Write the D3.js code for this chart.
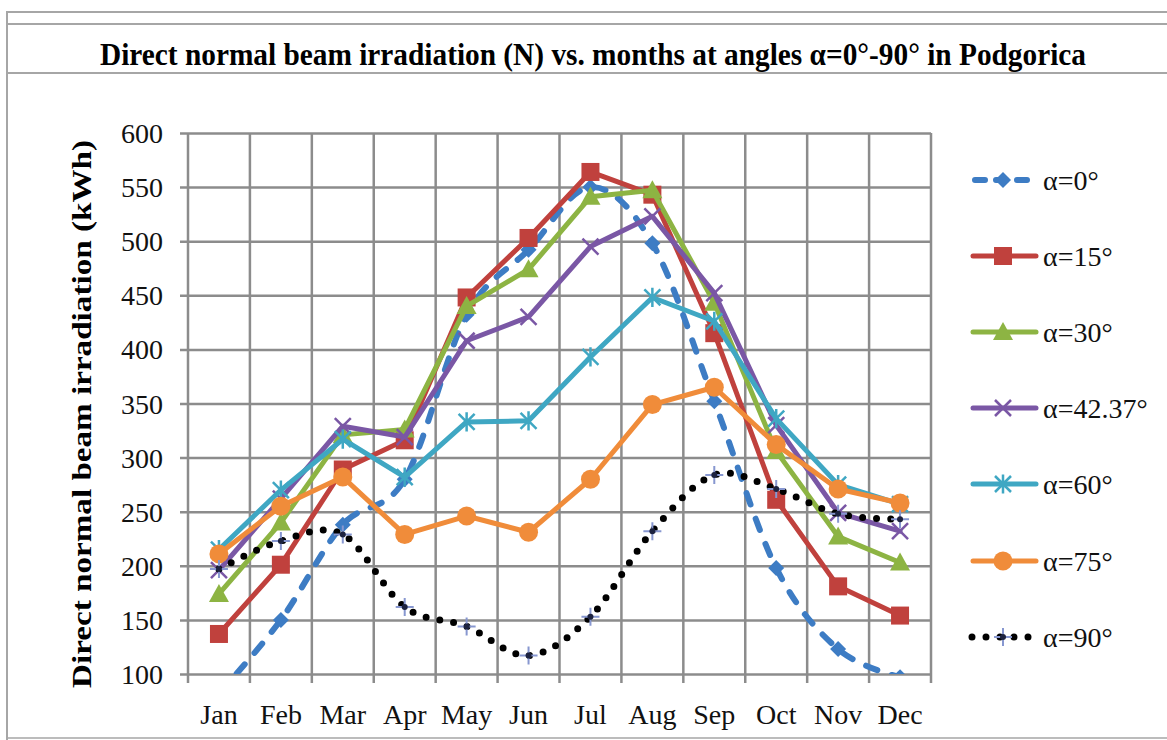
<!DOCTYPE html>
<html>
<head>
<meta charset="utf-8">
<script src="https://cdn.jsdelivr.net/npm/d3@7"></script>
<style>
  html, body { margin: 0; padding: 0; background: #ffffff; }
  svg { display: block; }
</style>
</head>
<body>
<svg id="chart" width="1167" height="740"></svg>
<script>
// ---- data ----
const months = ["Jan","Feb","Mar","Apr","May","Jun","Jul","Aug","Sep","Oct","Nov","Dec"];
const yTicks = [100,150,200,250,300,350,400,450,500,550,600];
const seriesNames = ["α=0°","α=15°","α=30°","α=42.37°","α=60°","α=75°","α=90°"];
const a0  = [82,150,238,280,432,492,550,498,352,198,123,97];
const a15 = [137,201,289,316,448,503,564,543,415,261,181,154];
const a30 = [174,240,321,326,440,474,541,547,443,306,227,203];
const a42 = [196,262,329,319,408,430,495,523,452,330,249,232];
const a60 = [215,270,317,282,333,334,393,448,426,336,275,257];
const a75 = [211,255,282,229,246,231,280,349,365,312,271,258];
const a90 = [197,223,229,162,144,117,153,232,284,271,248,243];

const titleText = "Direct normal beam irradiation (N) vs. months at angles α=0°-90° in Podgorica";
const yTitle = "Direct normal beam irradiation (kWh)";

// ---- styles ----
const styles = [
  {color:"#3d7cc4", marker:"diamond", dash:"12 15", width:6, smooth:true},
  {color:"#c0413d", marker:"square", dash:null, width:5, smooth:false},
  {color:"#8db443", marker:"triangle", dash:null, width:5, smooth:false},
  {color:"#7a57a5", marker:"x", dash:null, width:5, smooth:false},
  {color:"#3fa7c3", marker:"star", dash:null, width:5, smooth:false},
  {color:"#f08c3a", marker:"circle", dash:null, width:5, smooth:false},
  {color:"#000000", marker:"plus", dash:"0 14", width:7, smooth:true}
];
const seriesData = [a0,a15,a30,a42,a60,a75,a90];

const svg = d3.select("#chart");
const L = 188, R = 931, T = 133, B = 674;
const font = "'Liberation Serif','Times New Roman',serif";

// frame
const frameColor = "#a6a6a6";
svg.append("line").attr("x1",7).attr("x2",1167).attr("y1",12).attr("y2",12).attr("stroke",frameColor).attr("stroke-width",2);
svg.append("line").attr("x1",7).attr("x2",1167).attr("y1",24).attr("y2",24).attr("stroke",frameColor).attr("stroke-width",2);
svg.append("line").attr("x1",7).attr("x2",1167).attr("y1",73).attr("y2",73).attr("stroke",frameColor).attr("stroke-width",2);
svg.append("line").attr("x1",7).attr("x2",7).attr("y1",11).attr("y2",740).attr("stroke",frameColor).attr("stroke-width",2);
svg.append("line").attr("x1",7).attr("x2",1167).attr("y1",738).attr("y2",738).attr("stroke",frameColor).attr("stroke-width",1.5);

// title
svg.append("text").attr("x",100).attr("y",65)
  .attr("font-family",font).attr("font-weight","bold").attr("font-size",31)
  .attr("textLength",986).attr("lengthAdjust","spacingAndGlyphs")
  .attr("fill","#000").text(titleText);

// scales
const x = d3.scaleBand().domain(months).range([L,R]);
const xc = m => x(m) + x.bandwidth()/2;
const y = d3.scaleLinear().domain([100,600]).range([B,T]);

const gridColor = "#8c8c8c";
// horizontal gridlines + y axis
const yAxis = d3.axisLeft(y).tickValues(yTicks).tickSize(R-L+8).tickFormat(d3.format("d")).tickPadding(17);
const gy = svg.append("g").attr("transform",`translate(${R},0)`).call(yAxis);
gy.select(".domain").remove();
gy.selectAll(".tick line").attr("stroke",gridColor).attr("stroke-width",2.5);
gy.selectAll(".tick text").attr("font-family",font).attr("font-size",28).attr("fill","#111")
  .attr("dy","0.34em").attr("x",-(R-L)-25);

// vertical gridlines (category boundaries)
const bounds = months.map(m => x(m)).concat([R]);
svg.append("g").selectAll("line").data(bounds).join("line")
  .attr("x1",d=>d).attr("x2",d=>d).attr("y1",T).attr("y2",B+9)
  .attr("stroke",gridColor).attr("stroke-width",2.5);

// x labels via axis
const xAxis = d3.axisBottom(x).tickSize(0).tickPadding(0);
const gx = svg.append("g").attr("transform",`translate(0,${B})`).call(xAxis);
gx.select(".domain").remove();
gx.selectAll(".tick text").attr("font-family",font).attr("font-size",28).attr("fill","#111")
  .attr("y",50).attr("dy",0);

// y title
svg.append("text").attr("transform","translate(91,414) rotate(-90)")
  .attr("text-anchor","middle").attr("font-family",font).attr("font-weight","bold")
  .attr("font-size",28).attr("textLength",548).attr("lengthAdjust","spacingAndGlyphs")
  .attr("fill","#000").text(yTitle);

// clip
svg.append("clipPath").attr("id","plotclip").append("rect")
  .attr("x",L-2).attr("y",T-12).attr("width",R-L+14).attr("height",B-T+12);

const plot = svg.append("g").attr("clip-path","url(#plotclip)");

function drawMarker(g, type, color, cx, cy, scale) {
  const s = scale || 1;
  if (type === "diamond") {
    const r = 8*s;
    g.append("path").attr("d",`M${cx},${cy-r}L${cx+r},${cy}L${cx},${cy+r}L${cx-r},${cy}Z`).attr("fill",color);
  } else if (type === "square") {
    const h = 9*s;
    g.append("rect").attr("x",cx-h).attr("y",cy-h).attr("width",2*h).attr("height",2*h).attr("fill",color);
  } else if (type === "triangle") {
    const h = 10*s;
    g.append("path").attr("d",`M${cx},${cy-h}L${cx+h},${cy+h*0.8}L${cx-h},${cy+h*0.8}Z`).attr("fill",color);
  } else if (type === "circle") {
    g.append("circle").attr("cx",cx).attr("cy",cy).attr("r",9.5*s).attr("fill",color);
  } else if (type === "x") {
    const h = 8*s;
    g.append("path").attr("d",`M${cx-h},${cy-h}L${cx+h},${cy+h}M${cx-h},${cy+h}L${cx+h},${cy-h}`)
      .attr("stroke",color).attr("stroke-width",2.5).attr("fill","none");
  } else if (type === "star") {
    const h = 8*s;
    g.append("path").attr("d",`M${cx-h},${cy-h}L${cx+h},${cy+h}M${cx-h},${cy+h}L${cx+h},${cy-h}M${cx},${cy-h*1.2}L${cx},${cy+h*1.2}`)
      .attr("stroke",color).attr("stroke-width",2.5).attr("fill","none");
  } else if (type === "plus") {
    const h = 9*s;
    g.append("path").attr("d",`M${cx-h},${cy}L${cx+h},${cy}M${cx},${cy-h}L${cx},${cy+h}`)
      .attr("stroke","#8797d0").attr("stroke-width",2).attr("fill","none");
    g.append("circle").attr("cx",cx).attr("cy",cy).attr("r",3).attr("fill","#1d2340");
  }
}

seriesData.forEach((vals, i) => {
  const st = styles[i];
  const pts = months.map((m, j) => [xc(m), y(vals[j])]);
  const line = d3.line().curve(st.smooth ? d3.curveCardinal.tension(0) : d3.curveLinear);
  const p = plot.append("path").attr("d", line(pts)).attr("fill","none")
    .attr("stroke", st.color).attr("stroke-width", st.width)
    .attr("stroke-linejoin","round").attr("stroke-linecap","round");
  if (st.dash) p.attr("stroke-dasharray", st.dash);
  const mg = plot.append("g");
  pts.forEach(pt => drawMarker(mg, st.marker, st.color, pt[0], pt[1], 1));
});

// legend
const legY = [180, 256, 332, 408, 484, 561, 637];
const lg = svg.append("g");
seriesNames.forEach((name, i) => {
  const st = styles[i];
  const yy = legY[i];
  const ln = lg.append("line").attr("x1",973).attr("x2",1036).attr("y1",yy).attr("y2",yy)
    .attr("stroke",st.color).attr("stroke-width",st.width).attr("stroke-linecap","round");
  if (i === 0) ln.attr("stroke-dasharray","10 11").attr("x1",975);
  if (i === 6) ln.attr("stroke-dasharray","0 14").attr("x1",972).attr("x2",1030);
  drawMarker(lg, st.marker, st.color, 1003, yy, 1);
  lg.append("text").attr("x",1043).attr("y",yy+10).attr("font-family",font).attr("font-size",28)
    .attr("fill","#111").text(name);
});
</script>
</body>
</html>
